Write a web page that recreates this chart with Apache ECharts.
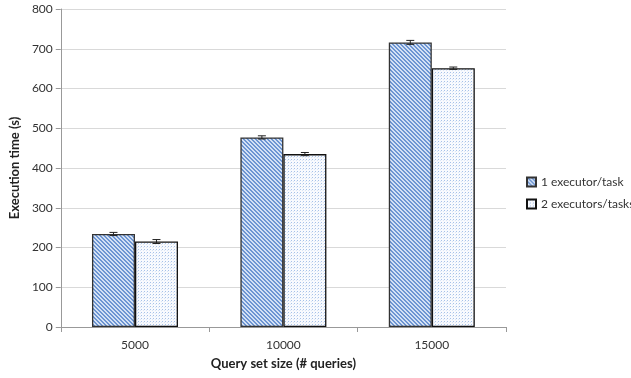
<!DOCTYPE html>
<html><head><meta charset="utf-8">
<script src="https://cdn.jsdelivr.net/npm/echarts@6/dist/echarts.min.js"></script>
<style>html,body{margin:0;padding:0;background:#fff}#c{width:631px;height:378px}</style>
</head><body><div id="c"></div>
<script>
const categories = ['5000', '10000', '15000'];
const seriesNames = ['1 executor/task', '2 executors/tasks'];
const oneExec = [234, 477, 716];
const twoExec = [215, 435, 651];
const oneErr = [4, 4, 5];
const twoErr = [5, 4, 3];

function hatch() {
  const c = document.createElement('canvas'); c.width = 4; c.height = 4;
  const g = c.getContext('2d');
  g.fillStyle = '#d3e1f5'; g.fillRect(0, 0, 4, 4);
  g.fillStyle = '#6d95d2';
  for (let x = 0; x < 4; x++) for (let y = 0; y < 4; y++) {
    const d = ((x - y) % 4 + 4) % 4;
    if (d === 0 || d === 1) g.fillRect(x, y, 1, 1);
  }
  return c;
}
function dots() {
  const c = document.createElement('canvas'); c.width = 3; c.height = 3;
  const g = c.getContext('2d');
  g.fillStyle = '#f8fafe'; g.fillRect(0, 0, 3, 3);
  g.fillStyle = '#a6c1e8'; g.fillRect(0, 0, 1, 1);
  g.fillStyle = '#dbe6f6'; g.fillRect(2, 1, 1, 1);
  return c;
}

const BW = 43;
function errSeries(vals, errs, off) {
  return {
    type: 'custom', z: 10, silent: true,
    data: vals.map((v, i) => [i, v - errs[i], v + errs[i]]),
    renderItem(params, api) {
      const lo = api.coord([api.value(0), api.value(1)]);
      const hi = api.coord([api.value(0), api.value(2)]);
      const x = lo[0] + off;
      const st = { stroke: '#222', lineWidth: 1 };
      return { type: 'group', children: [
        { type: 'line', shape: { x1: x, y1: lo[1], x2: x, y2: hi[1] }, style: st },
        { type: 'line', shape: { x1: x - 4, y1: lo[1], x2: x + 4, y2: lo[1] }, style: st },
        { type: 'line', shape: { x1: x - 4, y1: hi[1], x2: x + 4, y2: hi[1] }, style: st }
      ]};
    }
  };
}

const chart = echarts.init(document.getElementById('c'));
const F = 'Lato, Open Sans, sans-serif';
chart.setOption({
  animation: false,
  textStyle: { fontFamily: F },
  grid: { left: 56, right: 125, top: 9, bottom: 51 },
  legend: {
    orient: 'vertical', left: 521, top: 171, itemGap: 10,
    itemWidth: 9, itemHeight: 9, icon: 'rect',
    textStyle: { fontSize: 12, color: '#333', fontFamily: F },
    data: seriesNames
  },
  xAxis: {
    type: 'category', data: categories,
    name: 'Query set size (# queries)', nameLocation: 'middle', nameGap: 30,
    nameTextStyle: { fontWeight: 'bold', fontSize: 13, color: '#222' },
    axisLine: { lineStyle: { color: '#999' } },
    axisTick: { show: true, length: 5, lineStyle: { color: '#999' } },
    axisLabel: { color: '#333', fontSize: 12, margin: 12 }
  },
  yAxis: {
    type: 'value', min: 0, max: 800, interval: 100,
    name: 'Execution time (s)', nameLocation: 'middle', nameGap: 37, nameRotate: 90,
    nameTextStyle: { fontWeight: 'bold', fontSize: 13, color: '#222' },
    axisLine: { show: true, lineStyle: { color: '#999' } },
    axisTick: { show: true, length: 5, lineStyle: { color: '#999' } },
    axisLabel: { color: '#333', fontSize: 12, margin: 8 },
    splitLine: { lineStyle: { color: '#d9d9d9' } }
  },
  series: [
    { name: seriesNames[0], type: 'bar', data: oneExec, barWidth: BW, barGap: '0%',
      itemStyle: { color: { image: hatch(), repeat: 'repeat' }, borderColor: '#333', borderWidth: 1.3 } },
    { name: seriesNames[1], type: 'bar', data: twoExec, barWidth: BW,
      itemStyle: { color: { image: dots(), repeat: 'repeat' }, borderColor: '#111', borderWidth: 1.3 } },
    errSeries(oneExec, oneErr, -BW / 2),
    errSeries(twoExec, twoErr, BW / 2)
  ]
});
</script></body></html>
